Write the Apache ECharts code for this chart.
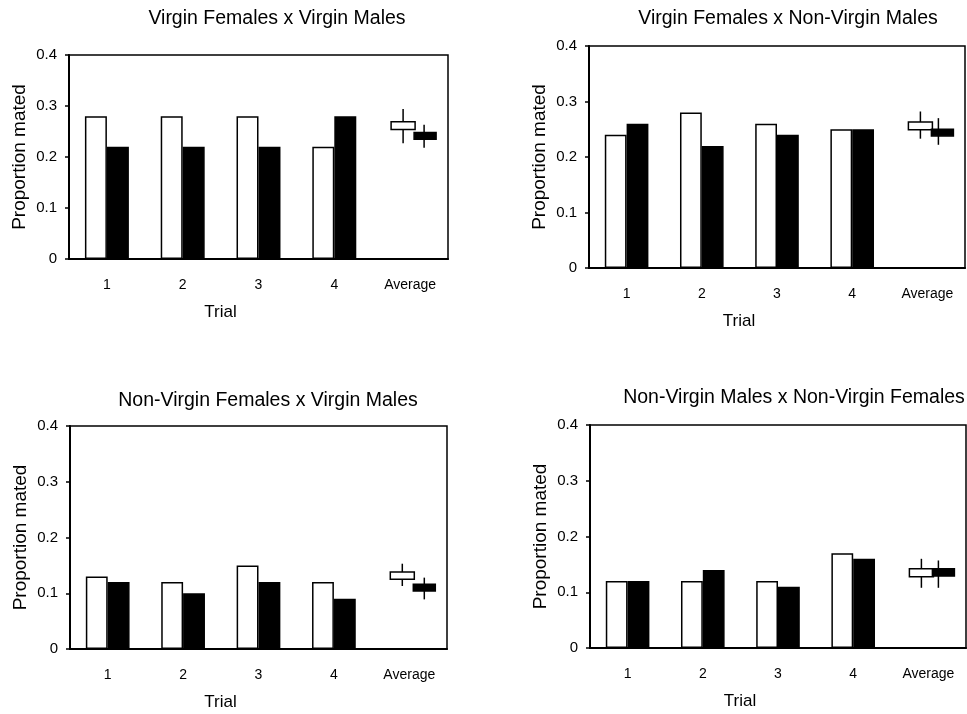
<!DOCTYPE html>
<html>
<head>
<meta charset="utf-8">
<script src="https://cdn.jsdelivr.net/npm/echarts@6/dist/echarts.min.js"></script>
<style>
  html, body { margin: 0; padding: 0; background: #fff; }
  #chart { width: 967px; height: 714px; }
</style>
</head>
<body>
<div id="chart"></div>
<script>
const trials = ['1', '2', '3', '4', 'Average'];

// open bars = first group, filled bars = second group
// averages: [whisker low, box low, box high, whisker high]
const vfvmOpen = [0.28, 0.28, 0.28, 0.22];
const vfvmFilled = [0.22, 0.22, 0.22, 0.28];
const vfvmOpenAvg = [0.227, 0.254, 0.269, 0.294];
const vfvmFilledAvg = [0.218, 0.235, 0.248, 0.263];

const vfnvmOpen = [0.24, 0.28, 0.26, 0.25];
const vfnvmFilled = [0.26, 0.22, 0.24, 0.25];
const vfnvmOpenAvg = [0.233, 0.249, 0.263, 0.282];
const vfnvmFilledAvg = [0.222, 0.238, 0.250, 0.270];

const nvfvmOpen = [0.13, 0.12, 0.15, 0.12];
const nvfvmFilled = [0.12, 0.10, 0.12, 0.09];
const nvfvmOpenAvg = [0.113, 0.125, 0.138, 0.153];
const nvfvmFilledAvg = [0.089, 0.104, 0.116, 0.128];

const nvmnvfOpen = [0.12, 0.12, 0.12, 0.17];
const nvmnvfFilled = [0.12, 0.14, 0.11, 0.16];
const nvmnvfOpenAvg = [0.108, 0.128, 0.142, 0.160];
const nvmnvfFilledAvg = [0.108, 0.129, 0.142, 0.157];

const FONT = '"Liberation Sans", Arial, sans-serif';

const panels = [
  { title: 'Virgin Females x Virgin Males', tx: 277, ty: 19,
    grid: { left: 69, top: 55, width: 379, height: 204 },
    open: vfvmOpen, filled: vfvmFilled, openAvg: vfvmOpenAvg, filledAvg: vfvmFilledAvg, blackWhisker: 14 },
  { title: 'Virgin Females x Non-Virgin Males', tx: 788, ty: 19,
    grid: { left: 589, top: 46, width: 376, height: 222 },
    open: vfnvmOpen, filled: vfnvmFilled, openAvg: vfnvmOpenAvg, filledAvg: vfnvmFilledAvg, blackWhisker: 11 },
  { title: 'Non-Virgin Females x Virgin Males', tx: 268, ty: 401,
    grid: { left: 70, top: 426, width: 377, height: 223 },
    open: nvfvmOpen, filled: nvfvmFilled, openAvg: nvfvmOpenAvg, filledAvg: nvfvmFilledAvg, blackWhisker: 15 },
  { title: 'Non-Virgin Males x Non-Virgin Females', tx: 794, ty: 398,
    grid: { left: 590, top: 425, width: 376, height: 223 },
    open: nvmnvfOpen, filled: nvmnvfFilled, openAvg: nvmnvfOpenAvg, filledAvg: nvmnvfFilledAvg, blackWhisker: 10 }
];

function avgRender(boxL, boxR, whiskerX, filled) {
  return function (params, api) {
    const idx = api.value(0);
    const lo = api.coord([idx, api.value(1)]);
    const q1 = api.coord([idx, api.value(2)]);
    const q3 = api.coord([idx, api.value(3)]);
    const hi = api.coord([idx, api.value(4)]);
    const cx = lo[0];
    return {
      type: 'group',
      children: [
        { type: 'line', shape: { x1: cx + whiskerX, y1: hi[1], x2: cx + whiskerX, y2: lo[1] },
          style: { stroke: '#000', lineWidth: 1.5 } },
        { type: 'rect', shape: { x: cx + boxL, y: q3[1], width: boxR - boxL, height: q1[1] - q3[1] },
          style: { fill: filled ? '#000' : '#fff', stroke: '#000', lineWidth: 1.5 } }
      ]
    };
  };
}

const grids = [], xAxes = [], yAxes = [], series = [], graphics = [];

panels.forEach(function (p, i) {
  grids.push(Object.assign({ show: true, borderColor: '#000', borderWidth: 1.5, backgroundColor: 'transparent' }, p.grid));
  xAxes.push({
    type: 'category', gridIndex: i, data: trials,
    name: 'Trial', nameLocation: 'middle', nameGap: 45,
    nameTextStyle: { fontFamily: FONT, fontSize: 17, color: '#000', padding: [0, 76, 0, 0] },
    axisLine: { lineStyle: { color: '#000', width: 2 } },
    axisTick: { length: 6, lineStyle: { color: '#000', width: 1.5 } },
    axisLabel: { margin: 19, fontFamily: FONT, fontSize: 14, color: '#000' },
    splitLine: { show: false }
  });
  yAxes.push({
    type: 'value', gridIndex: i, min: 0, max: 0.4, interval: 0.1,
    name: 'Proportion mated', nameLocation: 'middle', nameGap: 40,
    nameTextStyle: { fontFamily: FONT, fontSize: 19, color: '#000' },
    axisLine: { show: true, lineStyle: { color: '#000', width: 2 } },
    axisTick: { show: true, length: 4, lineStyle: { color: '#000', width: 1.5 } },
    axisLabel: { margin: 12, fontFamily: FONT, fontSize: 15, color: '#000',
      formatter: function (v) { return v === 0 ? '0' : v.toFixed(1); } },
    splitLine: { show: false }
  });
  series.push({
    type: 'bar', xAxisIndex: i, yAxisIndex: i, data: p.open.concat(['-']),
    barGap: '0%', barCategoryGap: '42%',
    itemStyle: { color: '#fff', borderColor: '#000', borderWidth: 1.5 }, silent: true
  });
  series.push({
    type: 'bar', xAxisIndex: i, yAxisIndex: i, data: p.filled.concat(['-']),
    barGap: '0%', barCategoryGap: '42%',
    itemStyle: { color: '#000', borderColor: '#000', borderWidth: 1.5 }, silent: true
  });
  series.push({
    type: 'custom', xAxisIndex: i, yAxisIndex: i,
    data: [[4].concat(p.openAvg)],
    encode: { x: 0, y: [1, 2, 3, 4] },
    renderItem: avgRender(-19, 5, -7, false), silent: true, z: 3
  });
  series.push({
    type: 'custom', xAxisIndex: i, yAxisIndex: i,
    data: [[4].concat(p.filledAvg)],
    encode: { x: 0, y: [1, 2, 3, 4] },
    renderItem: avgRender(4, 26, p.blackWhisker, true), silent: true, z: 4
  });
  graphics.push({
    type: 'text', x: p.tx, y: p.ty,
    style: { text: p.title, fontFamily: FONT, fontSize: 19.5, fill: '#000', textAlign: 'center', textVerticalAlign: 'middle' }
  });
});

const chart = echarts.init(document.getElementById('chart'));
chart.setOption({
  backgroundColor: '#fff',
  animation: false,
  grid: grids,
  xAxis: xAxes,
  yAxis: yAxes,
  series: series,
  graphic: graphics
});
</script>
</body>
</html>
